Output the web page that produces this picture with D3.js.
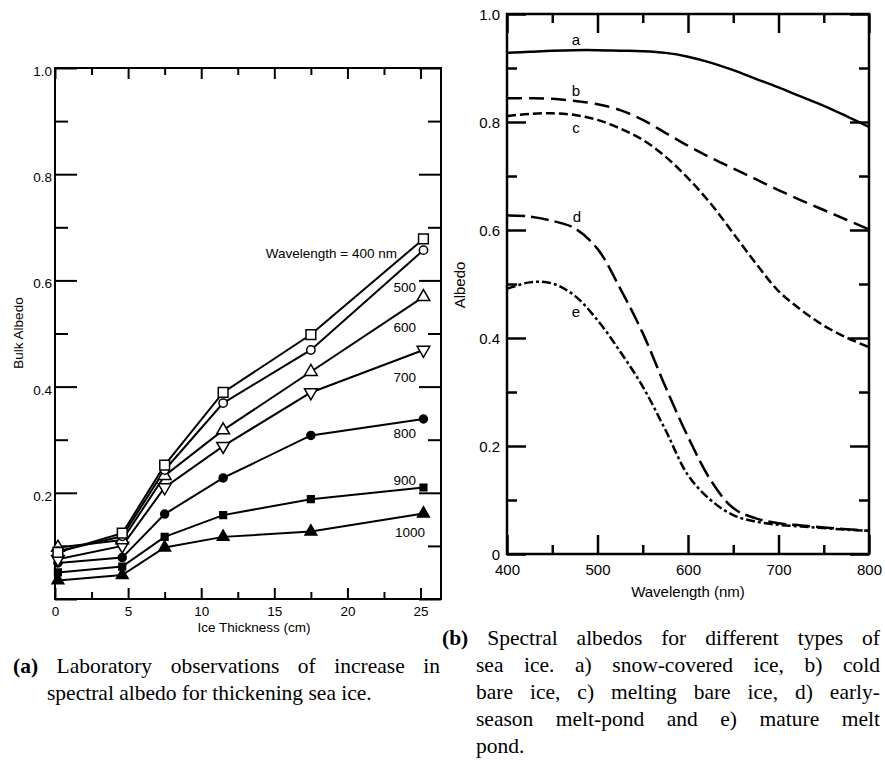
<!DOCTYPE html>
<html>
<head>
<meta charset="utf-8">
<script src="https://cdn.jsdelivr.net/npm/d3@7"></script>
<style>
  body { margin: 0; background: #fff; }
  svg { display: block; }
</style>
</head>
<body>
<svg id="chart" width="885" height="767"></svg>
<script>
// (a) bulk albedo vs ice thickness, one series per wavelength
const thickness = [0.2, 4.6, 7.5, 11.5, 17.5, 25.2];
const albedo400 = [0.088, 0.124, 0.252, 0.389, 0.498, 0.678];
const albedo500 = [0.090, 0.118, 0.243, 0.369, 0.469, 0.657];
const albedo600 = [0.097, 0.111, 0.232, 0.318, 0.428, 0.569];
const albedo700 = [0.075, 0.100, 0.210, 0.288, 0.389, 0.469];
const albedo800 = [0.068, 0.078, 0.160, 0.228, 0.308, 0.339];
const albedo900 = [0.050, 0.061, 0.117, 0.158, 0.188, 0.210];
const albedo1000 = [0.035, 0.045, 0.097, 0.117, 0.127, 0.161];
const seriesLabels = ['Wavelength = 400 nm', '500', '600', '700', '800', '900', '1000'];

// (b) spectral albedo curves
const wavelength = [400, 425, 450, 475, 500, 525, 550, 575, 600, 625, 650, 675, 700, 725, 750, 775, 800];
const snowIce = [0.928, 0.930, 0.932, 0.933, 0.933, 0.932, 0.931, 0.928, 0.921, 0.910, 0.896, 0.880, 0.864, 0.847, 0.830, 0.811, 0.791];
const coldBare = [0.844, 0.844, 0.843, 0.839, 0.833, 0.822, 0.804, 0.780, 0.756, 0.734, 0.714, 0.694, 0.674, 0.655, 0.637, 0.619, 0.601];
const meltBare = [0.811, 0.815, 0.816, 0.813, 0.804, 0.788, 0.767, 0.736, 0.696, 0.649, 0.594, 0.538, 0.487, 0.452, 0.423, 0.401, 0.383];
const earlyPond = [0.627, 0.625, 0.617, 0.603, 0.565, 0.492, 0.409, 0.310, 0.217, 0.137, 0.085, 0.066, 0.057, 0.053, 0.049, 0.046, 0.043];
const maturePond = [0.491, 0.503, 0.501, 0.478, 0.433, 0.375, 0.310, 0.230, 0.146, 0.100, 0.072, 0.060, 0.054, 0.051, 0.048, 0.045, 0.043];
const curveLetters = ['a', 'b', 'c', 'd', 'e'];

const svg = d3.select('#chart');
svg.append('rect').attr('width', 885).attr('height', 767).attr('fill', '#fff');

const sans = 'Liberation Sans, Arial, Helvetica, sans-serif';

// ---------- panel (a) ----------
const xA = d3.scaleLinear().domain([0, 26.4]).range([55, 441]);
const yA = d3.scaleLinear().domain([0, 1]).range([599, 68]);
const gA = svg.append('g').attr('font-family', sans);

function inwardAxes(g, x, y, o) {
  const [x0, x1] = x.range();
  const [y0, y1] = y.range();
  const styleAxis = a => {
    a.select('.domain').remove();
    a.selectAll('line').attr('stroke', '#000').attr('stroke-width', o.tickWidth);
    a.selectAll('text').attr('font-size', o.fontSize).attr('fill', '#000').attr('font-family', sans);
  };
  // major + minor on each side
  g.append('g').attr('transform', `translate(0,${y0})`)
    .call(d3.axisBottom(x).tickValues(o.xMajor).tickSize(-o.xMajorLen).tickPadding(o.xPad).tickFormat(o.xFormat))
    .call(styleAxis);
  g.append('g').attr('transform', `translate(0,${y0})`)
    .call(d3.axisBottom(x).tickValues(o.xMinor).tickSize(-o.xMinorLen).tickFormat(''))
    .call(styleAxis);
  g.append('g').attr('transform', `translate(0,${y1})`)
    .call(d3.axisTop(x).tickValues(o.xMajor).tickSize(-o.xMajorLen).tickFormat(''))
    .call(styleAxis);
  g.append('g').attr('transform', `translate(0,${y1})`)
    .call(d3.axisTop(x).tickValues(o.xMinor).tickSize(-o.xMinorLen).tickFormat(''))
    .call(styleAxis);
  const yl = g.append('g').attr('transform', `translate(${x0},0)`)
    .call(d3.axisLeft(y).tickValues(o.yMajor).tickSize(-o.yMajorLen).tickPadding(o.yPad).tickFormat(o.yFormat))
    .call(styleAxis);
  yl.selectAll('text').attr('dy', o.yDy);
  g.append('g').attr('transform', `translate(${x0},0)`)
    .call(d3.axisLeft(y).tickValues(o.yMinor).tickSize(-o.yMinorLen).tickFormat(''))
    .call(styleAxis);
  g.append('g').attr('transform', `translate(${x1},0)`)
    .call(d3.axisRight(y).tickValues(o.yMajor).tickSize(-o.yMajorLen).tickFormat(''))
    .call(styleAxis);
  g.append('g').attr('transform', `translate(${x1},0)`)
    .call(d3.axisRight(y).tickValues(o.yMinor).tickSize(-o.yMinorLen).tickFormat(''))
    .call(styleAxis);
  g.append('rect')
    .attr('x', x0).attr('y', y1).attr('width', x1 - x0).attr('height', y0 - y1)
    .attr('fill', 'none').attr('stroke', '#000').attr('stroke-width', o.frameWidth);
}

inwardAxes(gA, xA, yA, {
  xMajor: [0, 5, 10, 15, 20, 25], xMinor: [2.5, 7.5, 12.5, 17.5, 22.5],
  xMajorLen: 11, xMinorLen: 7, xPad: 7, xFormat: d3.format('d'),
  yMajor: [0, 0.2, 0.4, 0.6, 0.8, 1.0], yMinor: [0.1, 0.3, 0.5, 0.7, 0.9],
  yMajorLen: 22, yMinorLen: 13, yPad: 3,
  yFormat: d => d === 0 ? '' : d3.format('.1f')(d), yDy: '0.55em',
  fontSize: 13.5, tickWidth: 2, frameWidth: 2
});

gA.append('text').attr('x', 254).attr('y', 632).attr('text-anchor', 'middle')
  .attr('font-size', 13.5).text('Ice Thickness (cm)');
gA.append('text').attr('transform', 'translate(23,333) rotate(-90)').attr('text-anchor', 'middle')
  .attr('font-size', 13.5).text('Bulk Albedo');

const seriesA = [albedo400, albedo500, albedo600, albedo700, albedo800, albedo900, albedo1000];
const markers = [
  { type: d3.symbolSquare, size: 95, fill: '#fff', rot: 0 },
  { type: d3.symbolCircle, size: 55, fill: '#fff', rot: 0 },
  { type: d3.symbolTriangle, size: 70, fill: '#fff', rot: 0 },
  { type: d3.symbolTriangle, size: 70, fill: '#fff', rot: 180 },
  { type: d3.symbolCircle, size: 50, fill: '#000', rot: 0 },
  { type: d3.symbolSquare, size: 45, fill: '#000', rot: 0 },
  { type: d3.symbolTriangle, size: 60, fill: '#000', rot: 0 }
];
const lineA = d3.line().x(d => xA(d[0])).y(d => yA(d[1]));

seriesA.forEach((vals, i) => {
  const pts = thickness.map((t, j) => [t, vals[j]]);
  gA.append('path').attr('d', lineA(pts)).attr('fill', 'none')
    .attr('stroke', '#000').attr('stroke-width', 2);
});
// markers drawn from the last series up so the open ones sit on top
seriesA.slice().reverse().forEach((vals, ri) => {
  const i = seriesA.length - 1 - ri;
  const m = markers[i];
  gA.append('g').selectAll('path')
    .data(thickness.map((t, j) => [t, vals[j]]))
    .join('path')
    .attr('d', d3.symbol(m.type, m.size)())
    .attr('transform', d => `translate(${xA(d[0])},${yA(d[1])}) rotate(${m.rot})`)
    .attr('fill', m.fill).attr('stroke', '#000').attr('stroke-width', 1.5);
});

const labelPosA = [[397, 258], [416, 292], [416, 332], [416, 382], [416, 438], [416, 485], [425, 537]];
gA.append('g').attr('font-size', 13.5).attr('text-anchor', 'end')
  .selectAll('text').data(seriesLabels).join('text')
  .attr('x', (d, i) => labelPosA[i][0]).attr('y', (d, i) => labelPosA[i][1])
  .text(d => d);

// ---------- panel (b) ----------
const xB = d3.scaleLinear().domain([400, 800]).range([507, 869]);
const yB = d3.scaleLinear().domain([0, 1]).range([554, 14]);
const gB = svg.append('g').attr('font-family', sans);

inwardAxes(gB, xB, yB, {
  xMajor: [400, 500, 600, 700, 800], xMinor: [450, 550, 650, 750],
  xMajorLen: 19, xMinorLen: 9, xPad: 10, xFormat: d3.format('d'),
  yMajor: [0, 0.2, 0.4, 0.6, 0.8, 1.0], yMinor: [0.1, 0.3, 0.5, 0.7, 0.9],
  yMajorLen: 19, yMinorLen: 10, yPad: 7,
  yFormat: d => d === 0 ? '0' : d3.format('.1f')(d), yDy: '0.36em',
  fontSize: 15, tickWidth: 2.5, frameWidth: 2.5
});

gB.append('text').attr('x', 688).attr('y', 597).attr('text-anchor', 'middle')
  .attr('font-size', 15).text('Wavelength (nm)');
gB.append('text').attr('transform', 'translate(465,285) rotate(-90)').attr('text-anchor', 'middle')
  .attr('font-size', 15).text('Albedo');

const seriesB = [snowIce, coldBare, meltBare, earlyPond, maturePond];
const dashes = [null, '15,7', '9,4', '18,6', '9,3,3,3'];
const lineB = d3.line().x(d => xB(d[0])).y(d => yB(d[1])).curve(d3.curveCatmullRom.alpha(0.5));

seriesB.forEach((vals, i) => {
  gB.append('path').attr('d', lineB(wavelength.map((w, j) => [w, vals[j]])))
    .attr('fill', 'none').attr('stroke', '#000').attr('stroke-width', 2.5)
    .attr('stroke-dasharray', dashes[i]);
});

const labelPosB = [[576, 45], [576, 96], [576, 133], [577, 222], [576, 317]];
gB.append('g').attr('font-size', 15).attr('text-anchor', 'middle')
  .selectAll('text').data(curveLetters).join('text')
  .attr('x', (d, i) => labelPosB[i][0]).attr('y', (d, i) => labelPosB[i][1])
  .text(d => d);

// ---------- captions ----------
const serif = 'Liberation Serif, Times New Roman, serif';
const capA = [
  { tag: '(a)', text: ' Laboratory observations of increase in', x: 13, y: 673, w: 427 },
  { tag: '', text: 'spectral albedo for thickening sea ice.', x: 47, y: 700, w: null }
];
const capB = [
  { tag: '(b)', text: ' Spectral albedos for different types of', x: 442, y: 645, w: 438 },
  { tag: '', text: 'sea ice. a) snow-covered ice, b) cold', x: 476, y: 672, w: 404 },
  { tag: '', text: 'bare ice, c) melting bare ice, d) early-', x: 476, y: 699, w: 404 },
  { tag: '', text: 'season melt-pond and e) mature melt', x: 476, y: 726, w: 404 },
  { tag: '', text: 'pond.', x: 476, y: 753, w: null }
];

const capG = svg.append('g').attr('font-family', serif).attr('font-size', 21.5).attr('fill', '#000');
capA.concat(capB).forEach(c => {
  const t = capG.append('text').attr('x', c.x).attr('y', c.y);
  if (c.tag) t.append('tspan').attr('font-weight', 'bold').text(c.tag);
  t.append('tspan').text(c.text);
  if (c.w) {
    const natural = t.node().getComputedTextLength();
    const spaces = (c.text.match(/ /g) || []).length;
    if (spaces > 0) t.attr('word-spacing', Math.max(0, (c.w - natural) / spaces));
  }
});
</script>
</body>
</html>
